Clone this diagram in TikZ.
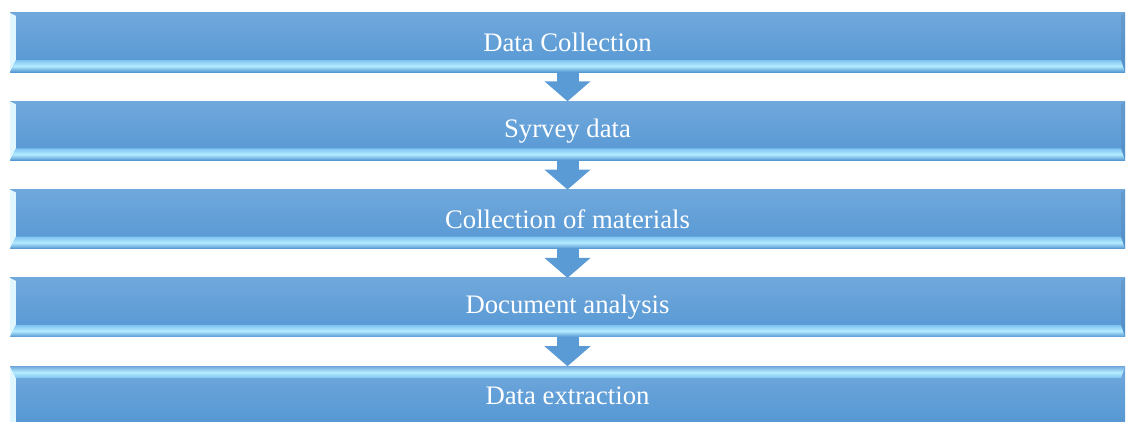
\documentclass[tikz,border=0pt]{standalone}
\usepackage{fontspec}
\setmainfont{Liberation Serif}
\usetikzlibrary{arrows.meta, positioning}

\definecolor{barTop}{HTML}{70A8DC}
\definecolor{barBot}{HTML}{5597D3}
\definecolor{bevelHi}{HTML}{B4ECFF}
\definecolor{bevelMid}{HTML}{7EC3F0}
\definecolor{arrowBlue}{HTML}{5B9BD5}

\def\pb{path picture bounding box}

\begin{document}
\begin{tikzpicture}[
  node distance=0.293cm,
  bar/.style={minimum width=11.15cm, minimum height=0.59cm, inner sep=0pt, outer sep=0pt,
    top color=barTop, bottom color=barBot, text=white,
    font=\fontsize{7.6}{9}\selectfont},
  lowlit/.style={path picture={
    % left and bottom bevels
    \shade[left color=white!60!bevelHi, right color=bevelMid]
      (\pb.south west) -- (\pb.north west) -- ([shift={(0.06,-0.03)}]\pb.north west)
      -- ([shift={(0.06,0.12)}]\pb.south west) -- cycle;
    \shade[top color=bevelMid, bottom color=barBot, middle color=bevelHi]
      (\pb.south west) -- ([shift={(0.06,0.12)}]\pb.south west)
      -- ([shift={(-0.04,0.12)}]\pb.south east) -- (\pb.south east) -- cycle;
    \fill[barBot!85!black, opacity=0.3]
      (\pb.south east) -- (\pb.north east) -- ([shift={(-0.04,-0.03)}]\pb.north east)
      -- ([shift={(-0.04,0.12)}]\pb.south east) -- cycle;
  }},
  toplit/.style={path picture={
    % left and top bevels
    \shade[left color=white!60!bevelHi, right color=bevelMid]
      (\pb.south west) -- (\pb.north west) -- ([shift={(0.06,-0.12)}]\pb.north west)
      -- ([shift={(0.06,0)}]\pb.south west) -- cycle;
    \shade[top color=barTop, bottom color=bevelMid, middle color=bevelHi]
      (\pb.north west) -- ([shift={(0.06,-0.12)}]\pb.north west)
      -- ([shift={(-0.04,-0.12)}]\pb.north east) -- (\pb.north east) -- cycle;
  }},
  arrow/.style={-{Triangle[width=0.45cm, length=0.2cm]}, line width=0.22cm, arrowBlue},
]
  \useasboundingbox (0,0) rectangle (11.26,4.21);
  \clip (0,0) rectangle (11.26,4.21);

  \node (b1) [bar, lowlit] at (5.675,3.785) {Data Collection};
  \node (b2) [bar, lowlit, below=of b1] {Syrvey data};
  \node (b3) [bar, lowlit, below=of b2] {Collection of materials};
  \node (b4) [bar, lowlit, below=of b3] {Document analysis};
  \node (b5) [bar, toplit, below=of b4] {Data extraction};

  \draw[arrow] (b1) -- (b2);
  \draw[arrow] (b2) -- (b3);
  \draw[arrow] (b3) -- (b4);
  \draw[arrow] (b4) -- (b5);
\end{tikzpicture}
\end{document}
